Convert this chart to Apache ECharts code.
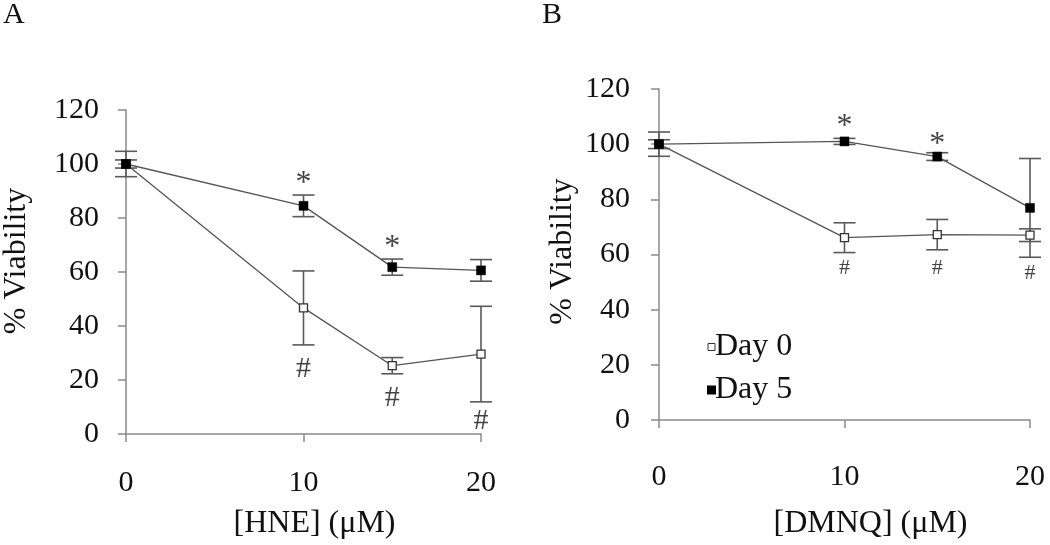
<!DOCTYPE html>
<html>
<head>
<meta charset="utf-8">
<script src="https://cdn.jsdelivr.net/npm/echarts@6/dist/echarts.min.js"></script>
<style>html,body{margin:0;padding:0;background:#fff}#c{width:1050px;height:545px}</style>
</head>
<body>
<div id="c"></div>
<script>
// ---- data ----
const conc = [0, 10, 15, 20];
const xTicks = [0, 10, 20];
const yTicks = [0, 20, 40, 60, 80, 100, 120];
const hneDay0 = [100, 46.7, 25.3, 29.6];
const hneDay0Err = [4.7, 13.7, 3.0, 17.7];
const hneDay5 = [100, 84.5, 61.8, 60.6];
const hneDay5Err = [1.5, 4.0, 3.0, 4.0];
const dmnqDay0 = [100, 66.1, 67.2, 67.0];
const dmnqDay0Err = [4.4, 5.4, 5.5, 2.3];
const dmnqDay5 = [100, 101.0, 95.5, 76.9];
const dmnqDay5Err = [1.6, 1.1, 1.4, 17.9];
const hneStars = [[10, 95.1], [15, 71.3]];
const hneHashes = [[10, 24.0], [15, 13.3], [20, 4.9]];
const dmnqStars = [[10, 108.4], [15, 101.9]];
const dmnqHashes = [[10, 55.0], [15, 55.0], [20, 53.2]];

const FONT = '"Liberation Serif","Times New Roman",serif';
const AXIS_COLOR = '#8a8a8a';
const LINE_COLOR = '#555';

function pts(xs, ys) { return xs.map((x, i) => [x, ys[i]]); }
function errData(xs, ys, es) { return xs.map((x, i) => [x, ys[i] - es[i], ys[i] + es[i]]); }

function errSeries(idx, data) {
  return {
    type: 'custom', name: 'err', xAxisIndex: idx, yAxisIndex: idx, z: 2,
    data: data, silent: true,
    renderItem: function (params, api) {
      const lo = api.coord([api.value(0), api.value(1)]);
      const hi = api.coord([api.value(0), api.value(2)]);
      const w = 11;
      const st = { stroke: '#5a5a5a', lineWidth: 1.6 };
      return { type: 'group', children: [
        { type: 'line', shape: { x1: lo[0], y1: lo[1], x2: hi[0], y2: hi[1] }, style: st },
        { type: 'line', shape: { x1: lo[0] - w, y1: lo[1], x2: lo[0] + w, y2: lo[1] }, style: st },
        { type: 'line', shape: { x1: hi[0] - w, y1: hi[1], x2: hi[0] + w, y2: hi[1] }, style: st }
      ]};
    }
  };
}
function lineSeries(idx, name, data, filled) {
  return {
    type: 'line', name: name, xAxisIndex: idx, yAxisIndex: idx, z: 3,
    data: data, symbol: 'rect', symbolSize: filled ? 9 : 8,
    lineStyle: { color: LINE_COLOR, width: 1.3 },
    itemStyle: filled ? { color: '#000', borderColor: '#000', borderWidth: 0.5 }
                      : { color: '#fff', borderColor: '#333', borderWidth: 1.3 },
    animation: false
  };
}
function textSeries(idx, data, txt, size, dy) {
  return {
    type: 'scatter', name: 'ann', xAxisIndex: idx, yAxisIndex: idx, z: 4,
    data: data, symbolSize: 1, itemStyle: { color: 'rgba(0,0,0,0)' }, silent: true,
    label: { show: true, position: 'inside', formatter: txt, fontFamily: FONT,
             fontSize: size, color: '#111', offset: [0, dy] }
  };
}
function xAxis(idx, name, gap, shift, margin) {
  return {
    type: 'value', gridIndex: idx, min: 0, max: 20, interval: 10,
    name: name, nameLocation: 'middle', nameGap: gap,
    nameTextStyle: { fontFamily: FONT, fontSize: 32, color: '#111', padding: [0, 0, 0, shift * 2] },
    axisLine: { lineStyle: { color: AXIS_COLOR, width: 1.5 } },
    axisTick: { show: true, length: 8, lineStyle: { color: AXIS_COLOR, width: 1.5 } },
    axisLabel: { fontFamily: FONT, fontSize: 30, color: '#111', margin: margin,
                 formatter: v => xTicks.includes(v) ? String(v) : '' },
    splitLine: { show: false }
  };
}
function yAxis(idx, gap, shift, margin) {
  return {
    type: 'value', gridIndex: idx, min: 0, max: 120, interval: 20,
    name: '% Viability', nameLocation: 'middle', nameGap: gap, nameRotate: 90,
    nameTextStyle: { fontFamily: FONT, fontSize: 32, color: '#111', padding: [0, 0, 0, shift * 2] },
    axisLine: { show: true, lineStyle: { color: AXIS_COLOR, width: 1.5 } },
    axisTick: { show: true, length: 8, lineStyle: { color: AXIS_COLOR, width: 1.5 } },
    axisLabel: { fontFamily: FONT, fontSize: 30, color: '#111', margin: margin,
                 formatter: v => yTicks.includes(v) ? String(v) : '' },
    splitLine: { show: false }
  };
}

const chart = echarts.init(document.getElementById('c'), null, { renderer: 'canvas' });
chart.setOption({
  animation: false,
  backgroundColor: '#fff',
  graphic: [
    { type: 'text', left: 3, top: 0, style: { text: 'A', font: '30px ' + FONT, fill: '#111' } },
    { type: 'text', left: 542, top: 0, style: { text: 'B', font: '30px ' + FONT, fill: '#111' } }
  ],
  grid: [
    { left: 124, top: 110, width: 357, height: 327 },
    { left: 659, top: 89, width: 371, height: 334 }
  ],
  xAxis: [xAxis(0, '[HNE] (μM)', 74, 11, 34), xAxis(1, '[DMNQ] (μM)', 88, 26, 42)],
  yAxis: [yAxis(0, 93, 11, 27), yAxis(1, 80, 3, 29)],
  legend: {
    show: true, orient: 'vertical', left: 702, top: 326, itemGap: 11,
    icon: 'rect', itemWidth: 7, itemHeight: 7,
    textStyle: { fontFamily: FONT, fontSize: 32, color: '#111', padding: [0, 0, 0, -5] },
    data: [
      { name: 'Day 0', itemStyle: { color: '#fff', borderColor: '#333', borderWidth: 1 } },
      { name: 'Day 5', itemStyle: { color: '#000' } }
    ]
  },
  series: [
    errSeries(0, errData(conc, hneDay0, hneDay0Err)),
    errSeries(0, errData(conc, hneDay5, hneDay5Err)),
    lineSeries(0, 'Day 0', pts(conc, hneDay0), false),
    lineSeries(0, 'Day 5', pts(conc, hneDay5), true),
    textSeries(0, hneStars, '*', 32, 6),
    textSeries(0, hneHashes, '#', 30, 0),
    errSeries(1, errData(conc, dmnqDay0, dmnqDay0Err)),
    errSeries(1, errData(conc, dmnqDay5, dmnqDay5Err)),
    lineSeries(1, 'Day 0', pts(conc, dmnqDay0), false),
    lineSeries(1, 'Day 5', pts(conc, dmnqDay5), true),
    textSeries(1, dmnqStars, '*', 32, 6),
    textSeries(1, dmnqHashes, '#', 22, 0)
  ]
});
</script>
</body>
</html>
